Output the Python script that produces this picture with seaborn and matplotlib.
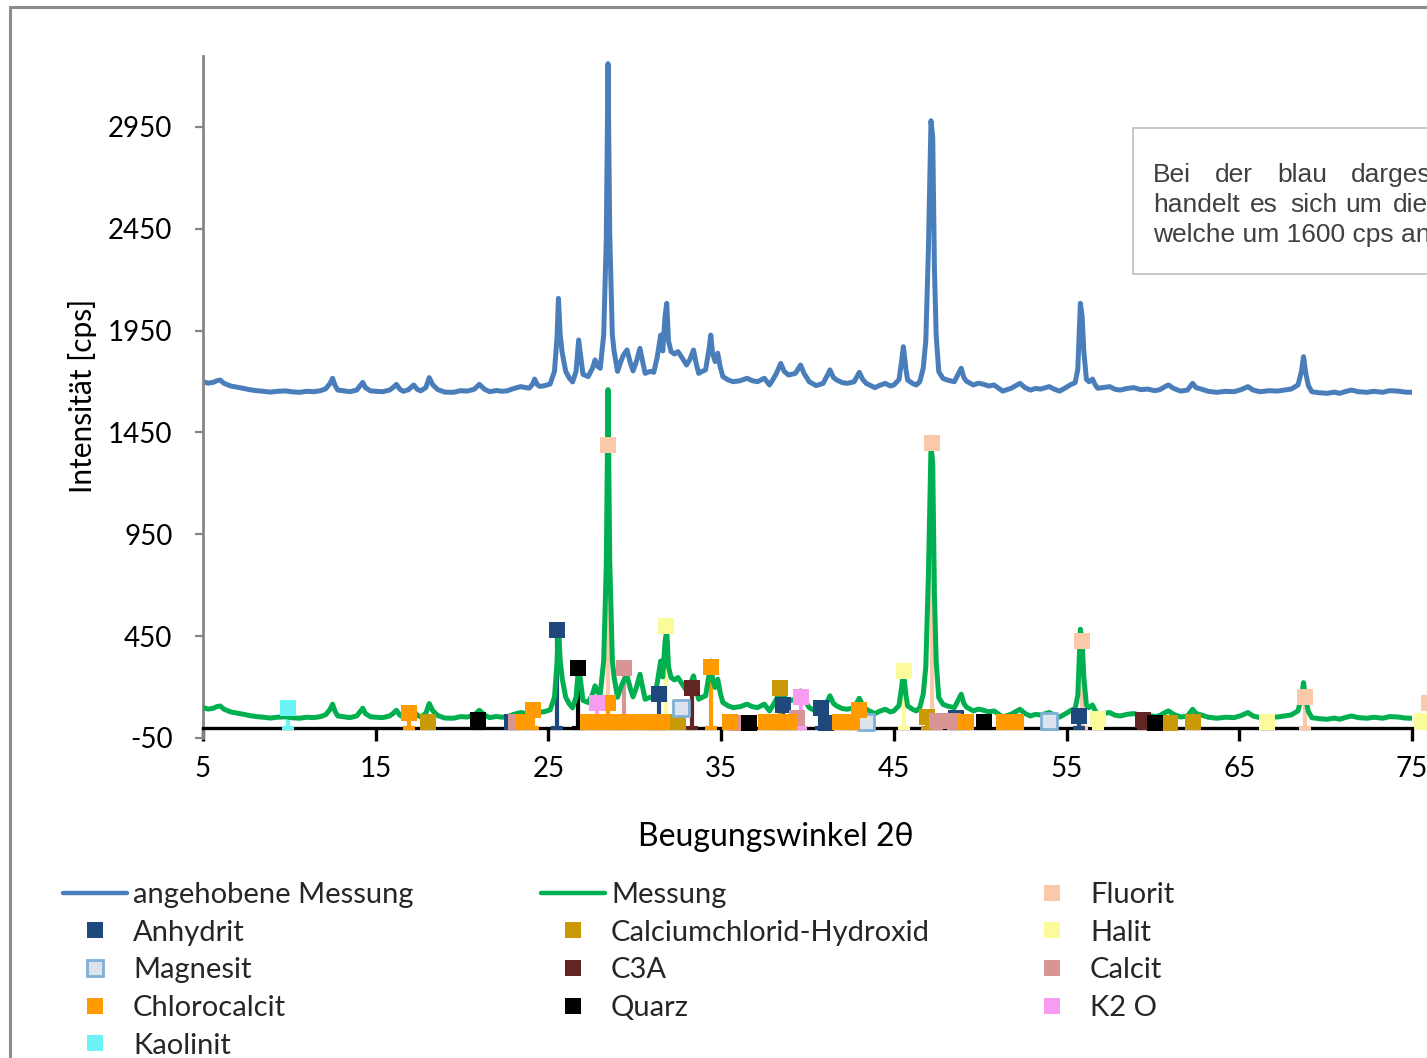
import matplotlib
matplotlib.use("Agg")
import matplotlib.pyplot as plt
from matplotlib.lines import Line2D
from matplotlib.patches import Rectangle
import pandas as pd
import seaborn as sns

# ---------------------------------------------------------------------------
# Diffraktogramm (Messung) : Beugungswinkel 2θ / Intensität [cps]
# ---------------------------------------------------------------------------
MESSUNG_2THETA = [
    5.0, 5.3, 5.6, 5.8, 6.0, 6.2, 6.6, 7.0, 7.3, 7.7, 8.1, 8.5, 8.9, 9.3, 9.8,
    10.2, 10.6, 11.0, 11.4, 11.8, 12.1, 12.35, 12.5, 12.65, 12.8, 13.1, 13.5,
    13.9, 14.1, 14.25, 14.4, 14.7, 15.0, 15.4, 15.8, 16.0, 16.2, 16.4, 16.6,
    16.9, 17.2, 17.4, 17.6, 17.9, 18.1, 18.3, 18.6, 19.0, 19.5, 19.9, 20.3,
    20.7, 21.0, 21.3, 21.6, 22.0, 22.3, 22.6, 23.0, 23.4, 23.7, 23.9, 24.1,
    24.2, 24.35, 24.5, 24.8, 25.1, 25.35, 25.5, 25.58, 25.68, 25.8, 26.0,
    26.2, 26.4, 26.6, 26.75, 26.9, 27.0, 27.3, 27.55, 27.7, 27.85, 28.0,
    28.2, 28.35, 28.45, 28.55, 28.7, 28.8, 29.0, 29.2, 29.35, 29.55, 29.75,
    29.9, 30.1, 30.3, 30.45, 30.6, 30.9, 31.1, 31.3, 31.5, 31.62, 31.75,
    31.85, 31.95, 32.1, 32.3, 32.5, 32.75, 33.0, 33.2, 33.4, 33.55, 33.7,
    33.9, 34.1, 34.3, 34.4, 34.5, 34.65, 34.8, 34.95, 35.1, 35.4, 35.7, 36.1,
    36.5, 36.8, 37.1, 37.5, 37.8, 38.0, 38.2, 38.45, 38.65, 38.9, 39.3, 39.6,
    39.8, 40.1, 40.5, 40.9, 41.15, 41.3, 41.5, 41.7, 42.0, 42.3, 42.7, 43.0,
    43.2, 43.4, 43.9, 44.2, 44.5, 44.8, 45.0, 45.3, 45.45, 45.55, 45.7, 45.8,
    46.1, 46.3, 46.5, 46.7, 46.85, 47.0, 47.15, 47.25, 47.35, 47.45, 47.6,
    47.85, 48.1, 48.5, 48.75, 48.9, 49.05, 49.2, 49.6, 49.9, 50.2, 50.5,
    50.8, 51.1, 51.3, 51.8, 52.3, 52.6, 52.9, 53.2, 53.5, 54.0, 54.3, 54.6,
    55.0, 55.2, 55.5, 55.65, 55.8, 55.9, 56.0, 56.15, 56.3, 56.5, 56.65,
    56.8, 57.1, 57.5, 57.8, 58.1, 58.5, 58.9, 59.3, 59.7, 60.1, 60.4, 60.7,
    60.9, 61.2, 61.6, 62.0, 62.3, 62.5, 62.8, 63.2, 63.7, 64.2, 64.7, 65.1,
    65.5, 65.8, 66.2, 66.7, 67.2, 67.6, 68.0, 68.4, 68.6, 68.72, 68.85, 69.0,
    69.2, 69.6, 70.1, 70.5, 70.8, 71.2, 71.5, 71.9, 72.4, 72.8, 73.3, 73.7,
    74.2, 74.6, 75.0,
]
MESSUNG_CPS = [
    99, 92, 96, 104, 107, 92, 78, 72, 67, 60, 55, 52, 48, 52, 54,
    49, 47, 52, 50, 55, 64, 90, 116, 80, 58, 55, 50,
    58, 80, 96, 70, 54, 52, 50, 58, 70, 86, 62, 52,
    60, 83, 62, 54, 70, 119, 84, 60, 48, 47, 55, 53,
    62, 86, 62, 50, 56, 52, 54, 66, 75, 70, 68, 90,
    112, 85, 76, 80, 88, 150, 320, 508, 330, 240, 150,
    118, 98, 150, 304, 200, 135, 124, 165, 206, 175, 165,
    330, 800, 1660, 820, 330, 250, 150, 200, 231, 255, 190,
    152, 200, 263, 200, 140, 150, 145, 220, 328, 250, 420,
    484, 300, 247, 235, 247, 215, 181, 210, 255, 190, 140,
    150, 157, 260, 328, 240, 198, 239, 170, 124, 108, 99, 104,
    116, 104, 99, 116, 83, 110, 140, 189, 150, 132, 140, 181,
    140, 99, 80, 91, 130, 157, 120, 107, 95, 91, 99, 145,
    110, 91, 70, 82, 91, 78, 83, 110, 200, 271, 160, 107,
    90, 83, 99, 165, 300, 750, 1380, 1300, 650, 328, 148,
    115, 107, 99, 140, 165, 120, 102, 83, 92, 86, 78,
    83, 65, 53, 67, 91, 70, 58, 66, 63, 75, 62, 53,
    72, 83, 95, 160, 484, 420, 247, 110, 99, 112, 85,
    67, 70, 75, 62, 58, 66, 70, 60, 63, 55, 60, 75,
    83, 66, 53, 58, 91, 70, 63, 52, 47, 52, 50, 60,
    75, 58, 50, 55, 53, 58, 63, 83, 150, 222, 140, 80,
    50, 45, 42, 48, 42, 52, 58, 50, 47, 52, 47, 55,
    53, 48, 47,
]
# the blue curve is the same measurement shifted upwards by this amount
ANHEBUNG = 1600

# ---------------------------------------------------------------------------
# Reflexlagen der Phasen (2θ, Intensität [cps])
# ---------------------------------------------------------------------------
FLUORIT_2THETA = [28.45, 47.2, 55.9, 68.8, 76.0]
FLUORIT_CPS = [1390, 1400, 426, 150, 120]

ANHYDRIT_2THETA = [22.9, 25.5, 31.4, 38.6, 40.8, 41.1, 48.6, 55.7]
ANHYDRIT_CPS = [28, 480, 165, 112, 97, 25, 50, 60]

CACLOH_2THETA = [18.0, 32.5, 38.4, 46.9, 61.0, 62.3]
CACLOH_CPS = [29, 30, 195, 55, 25, 28]

HALIT_2THETA = [31.8, 45.6, 56.8, 66.6, 75.6]
HALIT_CPS = [500, 278, 45, 28, 35]

MAGNESIT_2THETA = [32.7, 43.4, 54.0]
MAGNESIT_CPS = [97, 28, 32]

C3A_2THETA = [33.3, 59.4]
C3A_CPS = [195, 40]

CALCIT_2THETA = [23.1, 29.4, 35.9, 39.4, 47.5, 48.4]
CALCIT_CPS = [28, 296, 25, 50, 33, 33]

CHLOROCALCIT_2THETA = [16.9, 23.6, 24.1, 27.3, 27.9, 28.45, 28.9, 29.5, 30.1,
                       30.6, 31.1, 31.6, 34.4, 35.5, 37.6, 38.2, 38.9, 41.9,
                       42.6, 43.0, 49.2, 51.4, 52.1]
CHLOROCALCIT_CPS = [73, 28, 88, 28, 28, 122, 28, 28, 28,
                    28, 28, 28, 300, 28, 28, 28, 28, 30,
                    30, 88, 28, 28, 28]

QUARZ_2THETA = [20.9, 26.7, 36.6, 50.2, 60.1]
QUARZ_CPS = [40, 295, 25, 30, 25]

K2O_2THETA = [27.8, 39.6]
K2O_CPS = [120, 150]

KAOLINIT_2THETA = [9.9]
KAOLINIT_CPS = [97]

# ---------------------------------------------------------------------------
BLUE = "#4A7EBB"
GREEN = "#00B050"

# label, 2θ, cps, face colour, edge colour
PHASEN = [
    ("Fluorit", FLUORIT_2THETA, FLUORIT_CPS, "#FAC9AA", "#FAC9AA"),
    ("Anhydrit", ANHYDRIT_2THETA, ANHYDRIT_CPS, "#1F497D", "#1F497D"),
    ("Calciumchlorid-Hydroxid", CACLOH_2THETA, CACLOH_CPS, "#C99A06", "#C99A06"),
    ("Halit", HALIT_2THETA, HALIT_CPS, "#FBFB9B", "#FBFB9B"),
    ("Magnesit", MAGNESIT_2THETA, MAGNESIT_CPS, "#DCE3EC", "#7FB1D6"),
    ("C3A", C3A_2THETA, C3A_CPS, "#632523", "#632523"),
    ("Calcit", CALCIT_2THETA, CALCIT_CPS, "#D99594", "#D99594"),
    ("Chlorocalcit", CHLOROCALCIT_2THETA, CHLOROCALCIT_CPS, "#FF9A00", "#FF9A00"),
    ("Quarz", QUARZ_2THETA, QUARZ_CPS, "#000000", "#000000"),
    ("K2 O", K2O_2THETA, K2O_CPS, "#F79CF0", "#F79CF0"),
    ("Kaolinit", KAOLINIT_2THETA, KAOLINIT_CPS, "#6CF3F5", "#6CF3F5"),
]

W, H = 1427, 1058


def fx(px):
    return px / W


def fy(py):
    return 1 - py / H


sns.set_theme(style="white")
plt.rcParams["font.family"] = ["Lato", "DejaVu Sans"]
plt.rcParams["axes.unicode_minus"] = False
FS_TICK = 20
FS_LEG = 21

fig = plt.figure(figsize=(W / 100, H / 100), dpi=100)
ax = fig.add_axes([fx(203), fy(738), fx(1412) - fx(203), fy(55.6) - fy(738)])

mess = pd.DataFrame({"2theta": MESSUNG_2THETA, "cps": MESSUNG_CPS})
mess["angehoben"] = mess["cps"] + ANHEBUNG

sns.lineplot(data=mess, x="2theta", y="angehoben", ax=ax, color=BLUE,
             linewidth=3.6, estimator=None, sort=False, zorder=2)
sns.lineplot(data=mess, x="2theta", y="cps", ax=ax, color=GREEN,
             linewidth=3.6, estimator=None, sort=False, zorder=3)

# reflections: drop line to the axis, square marker on top
for i, (name, xs, ys, fc, ec) in enumerate(PHASEN):
    ax.errorbar(xs, ys, yerr=[list(ys), [0] * len(ys)], fmt="none", ecolor=fc,
                elinewidth=3.0, capsize=4.5, capthick=3.0, zorder=2.6,
                clip_on=False)
    sns.scatterplot(x=xs, y=ys, ax=ax, marker="s", s=11.5 ** 2, color=fc,
                    edgecolor=ec, linewidth=2 if ec != fc else 0,
                    zorder=5 + i * 0.01, clip_on=False, legend=False)

ax.set_xlim(5, 75)
ax.set_ylim(-50, 3300)
ax.set_xticks(range(5, 76, 10))
ax.set_yticks(range(-50, 3000, 500))

for side in ("top", "right"):
    ax.spines[side].set_visible(False)
ax.spines["left"].set_color("#868686")
ax.spines["left"].set_linewidth(2.0)
ax.spines["bottom"].set_position(("data", 0))
ax.spines["bottom"].set_color("black")
ax.spines["bottom"].set_linewidth(2.4)

ax.tick_params(axis="x", bottom=True, direction="out", length=9, width=2.4,
               color="black", pad=11, labelsize=FS_TICK, labelcolor="black")
ax.tick_params(axis="y", left=True, direction="out", length=6, width=1.6,
               color="#868686", pad=16, labelsize=FS_TICK, labelcolor="black")

ax.set_xlabel("Beugungswinkel 2θ", fontsize=23, color="black")
ax.xaxis.label.set_va("center")
ax.xaxis.set_label_coords((776 - 203) / 1209, (738 - 837) / 682.4)
ax.set_ylabel("Intensität [cps]", fontsize=21.5, color="black")
ax.yaxis.label.set_va("center")
ax.yaxis.set_label_coords((83 - 203) / 1209, (738 - 396) / 682.4)


def line_handle(color, label):
    return Line2D([], [], color=color, linewidth=3.2, label=label)


def marker_handle(entry):
    name, _, _, fc, ec = entry
    return Line2D([], [], linestyle="none", marker="s", markersize=11.5,
                  markerfacecolor=fc, markeredgecolor=ec,
                  markeredgewidth=2 if ec != fc else 0, label=name)


ph = {p[0]: p for p in PHASEN}
columns = [
    (63, [line_handle(BLUE, "angehobene Messung")] +
     [marker_handle(ph[n]) for n in ("Anhydrit", "Magnesit", "Chlorocalcit", "Kaolinit")]),
    (541, [line_handle(GREEN, "Messung")] +
     [marker_handle(ph[n]) for n in ("Calciumchlorid-Hydroxid", "C3A", "Quarz")]),
    (1020, [marker_handle(ph[n]) for n in ("Fluorit", "Halit", "Calcit", "K2 O")]),
]
for x0, handles in columns:
    fig.legend(handles=handles, loc="upper left",
               bbox_to_anchor=(fx(x0), fy(882)), frameon=False,
               fontsize=FS_LEG, handlelength=2.2, handletextpad=0.2,
               labelspacing=0.40, borderpad=0, borderaxespad=0)

# chart area border
fig.add_artist(Rectangle((fx(10), -0.2), 2.0, fy(7) + 0.2,
                         transform=fig.transFigure, fill=False,
                         edgecolor="#8C8C8C", linewidth=2.2, clip_on=False))

# note box
fig.add_artist(Rectangle((fx(1133), fy(274)), 1.0, fy(128) - fy(274),
                         transform=fig.transFigure, facecolor="white",
                         edgecolor="#C4C4C4", linewidth=1.3, zorder=10))
note_lines = [
    (182, [(1153, "Bei"), (1215, "der"), (1277, "blau"), (1351, "dargestellten")]),
    (212, [(1153, "handelt"), (1250, "es"), (1290, "sich"), (1345, "um"),
           (1393, "die")]),
    (242, [(1153, f"welche um {ANHEBUNG} cps an")]),
]
for base, words in note_lines:
    for x0, word in words:
        fig.text(fx(x0), fy(base), word, fontsize=19, color="#404040",
                 family=["Liberation Sans", "DejaVu Sans"], ha="left",
                 va="baseline", zorder=11)

fig.savefig("out.png", dpi=100, facecolor="white")
